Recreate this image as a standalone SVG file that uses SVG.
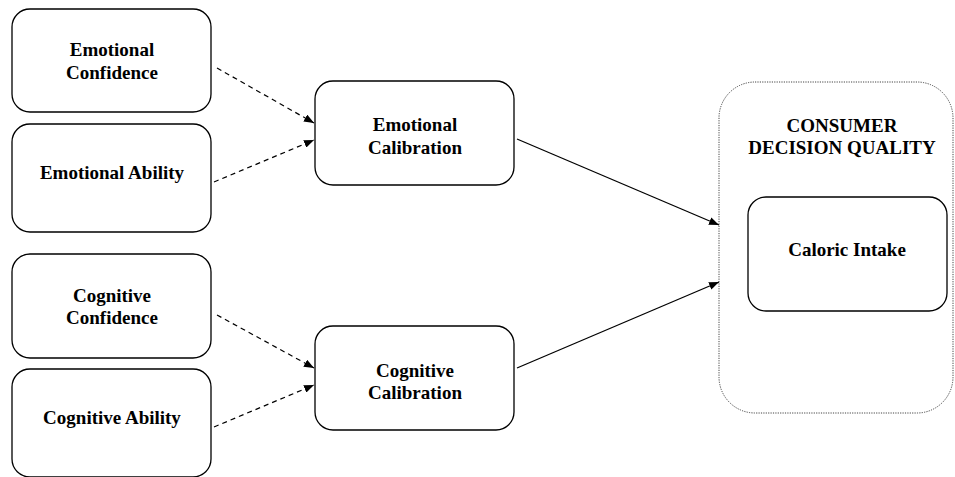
<svg xmlns="http://www.w3.org/2000/svg" width="955" height="477" viewBox="0 0 955 477">
<style>
.box{fill:#fff;stroke:#000;stroke-width:1.3}
.cont{fill:#fff;stroke:#444;stroke-width:1;stroke-dasharray:1.2 1.2}
.t{font-weight:bold;font-size:19px;text-anchor:middle;fill:#000}
.dash{stroke:#000;stroke-width:1.2;stroke-dasharray:5 4;fill:none}
.solid{stroke:#000;stroke-width:1.3;fill:none}
</style>
<defs>
<marker id="ah" viewBox="0 0 10 8" refX="10" refY="4" markerWidth="10" markerHeight="8" markerUnits="userSpaceOnUse" orient="auto">
<path d="M0,0 L10,4 L0,8 Z" fill="#000"/>
</marker>
</defs>
<rect width="955" height="477" fill="#fff"/>
<g font-family="Liberation Serif, Times New Roman, serif">
<g id="consumer-decision-quality">
<rect class="cont" x="719" y="82" width="234" height="331" rx="36" ry="36"/>
<text class="t" x="842" y="132">CONSUMER</text>
<text class="t" x="842" y="154">DECISION QUALITY</text>
</g>
<g id="caloric-intake">
<rect class="box" x="748" y="197" width="199" height="114" rx="18" ry="18"/>
<text class="t" x="847" y="256">Caloric Intake</text>
</g>
<g id="emotional-confidence">
<rect class="box" x="12" y="9" width="199" height="103" rx="18" ry="18"/>
<text class="t" x="112" y="56">Emotional</text>
<text class="t" x="112" y="79">Confidence</text>
</g>
<g id="emotional-ability">
<rect class="box" x="12" y="124" width="199" height="108" rx="18" ry="18"/>
<text class="t" x="112" y="179">Emotional Ability</text>
</g>
<g id="cognitive-confidence">
<rect class="box" x="12" y="254" width="199" height="104" rx="18" ry="18"/>
<text class="t" x="112" y="302">Cognitive</text>
<text class="t" x="112" y="324">Confidence</text>
</g>
<g id="cognitive-ability">
<rect class="box" x="12" y="369" width="199" height="108" rx="18" ry="18"/>
<text class="t" x="112" y="424">Cognitive Ability</text>
</g>
<g id="emotional-calibration">
<rect class="box" x="315" y="81" width="199" height="104" rx="18" ry="18"/>
<text class="t" x="415" y="131">Emotional</text>
<text class="t" x="415" y="154">Calibration</text>
</g>
<g id="cognitive-calibration">
<rect class="box" x="315" y="326" width="199" height="104" rx="18" ry="18"/>
<text class="t" x="415" y="377">Cognitive</text>
<text class="t" x="415" y="399">Calibration</text>
</g>
</g>
<g id="connectors">
<line class="dash" x1="217" y1="68" x2="314" y2="123" marker-end="url(#ah)"/>
<line class="dash" x1="214" y1="182" x2="314" y2="140" marker-end="url(#ah)"/>
<line class="dash" x1="217" y1="315" x2="314" y2="368" marker-end="url(#ah)"/>
<line class="dash" x1="214" y1="427" x2="314" y2="385" marker-end="url(#ah)"/>
<line class="solid" x1="517" y1="139" x2="719" y2="225" marker-end="url(#ah)"/>
<line class="solid" x1="517" y1="368" x2="719" y2="282" marker-end="url(#ah)"/>
</g>
</svg>
